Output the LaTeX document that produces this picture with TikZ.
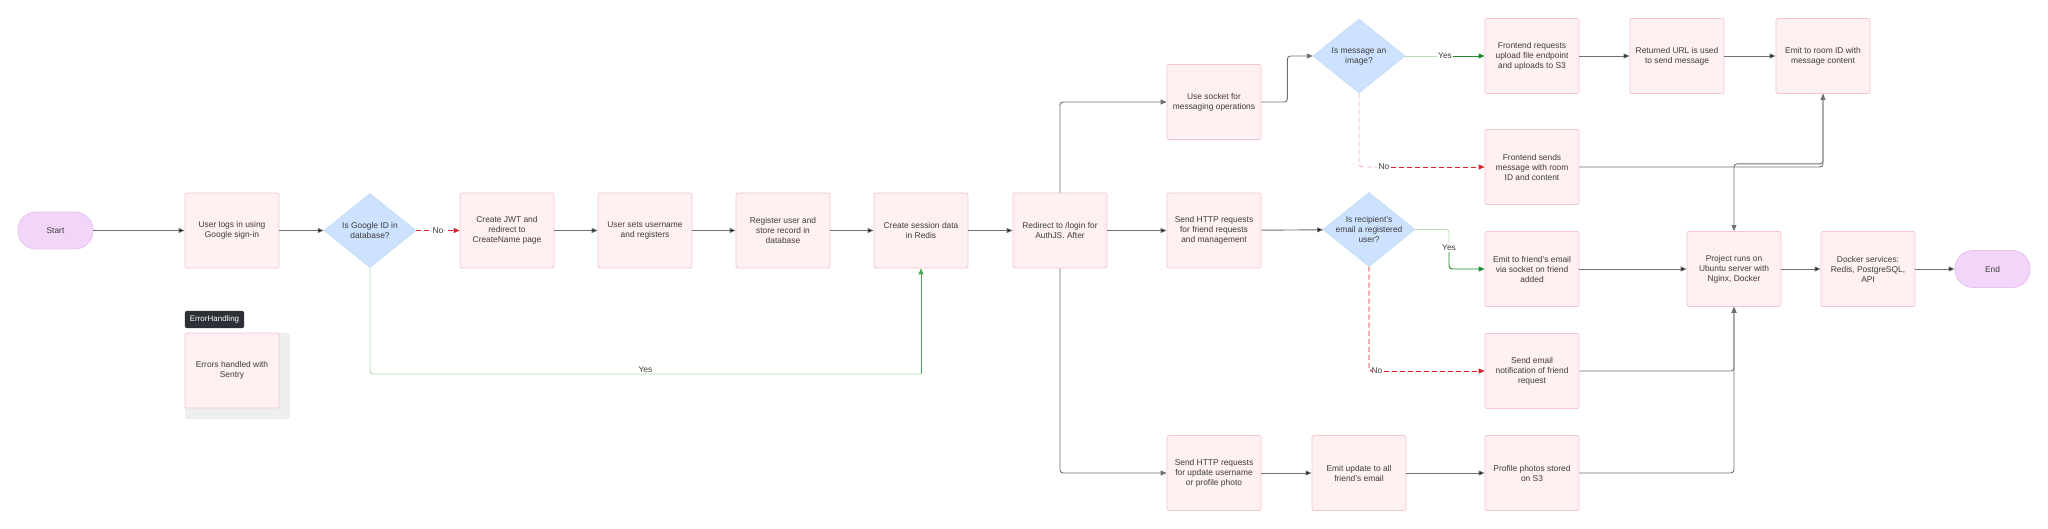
\documentclass[tikz,border=0pt]{standalone}
\usepackage{fontspec}
\setmainfont{Liberation Sans}
\usepackage{xcolor}
\usetikzlibrary{arrows.meta, positioning, shapes}
\definecolor{boxfill}{HTML}{FFF0F1}
\definecolor{boxline}{HTML}{F5C6D0}
\definecolor{decfill}{HTML}{CCE2FF}
\definecolor{decline}{HTML}{BFD8F8}
\definecolor{termfill}{HTML}{F2D6FA}
\definecolor{termline}{HTML}{E6C2F0}
\definecolor{linegray}{HTML}{6F6F6F}
\definecolor{txtgray}{HTML}{3C3C3C}
\definecolor{okgreen}{HTML}{1E8C2E}
\definecolor{okpale}{HTML}{B6DCB6}
\definecolor{nored}{HTML}{D7202A}
\definecolor{nopale}{HTML}{F3AEBB}
\definecolor{tagdark}{HTML}{2D3036}
\definecolor{errshade}{HTML}{EDEEF0}
\tikzset{
	% Define standard arrow tip
	>={Triangle[length=6pt,width=5pt]},
	% text of every shape
	txt/.style={font=\fontsize{8.4}{10}\selectfont, text=txtgray, align=center},
	% Define shape styles
	box/.style={txt, rectangle, draw=boxline, fill=boxfill, line width=0.8pt,
		rounded corners=2pt, minimum width=94pt, minimum height=75pt},
	decide/.style={txt, diamond, draw=decline, fill=decfill, line width=0.5pt,
		shape aspect=1.25, inner sep=-5pt, minimum width=92pt, minimum height=74pt},
	term/.style={txt, rectangle, draw=termline, fill=termfill, line width=0.8pt,
		rounded corners=18pt, minimum width=75pt, minimum height=37pt},
	tag/.style={font=\fontsize{8}{9.6}\selectfont, text=white, fill=tagdark,
		rounded corners=2pt, inner xsep=5pt, minimum height=17pt},
	lbl/.style={txt, inner sep=1pt},
	% Define arrow styles
	pil/.style={->, draw=linegray, line width=0.9pt, rounded corners=3pt},
	yespil/.style={->, draw=okgreen, line width=0.9pt, rounded corners=3pt},
	yespale/.style={draw=okpale, line width=0.9pt, rounded corners=3pt},
	nopil/.style={->, draw=nored, line width=0.9pt, dash pattern=on 5pt off 3pt, rounded corners=3pt},
	nopale/.style={draw=nopale, line width=0.9pt, dash pattern=on 5pt off 3pt, rounded corners=3pt}
}

\begin{document}
\begin{tikzpicture}[x=1pt, y=-1pt]
\useasboundingbox (0,0) rectangle (2048,529);

% login flow
\node[term] at (55.5,230.5) (start) {Start};
\node[box] at (232,230.5) (login) {User logs in using\\Google sign-in};
\node[decide] at (370,230.5) (gid) {Is Google ID in\\database?};
\node[box] at (507,230.5) (jwt) {Create JWT and\\redirect to\\CreateName page};
\node[box] at (645,230.5) (uname) {User sets username\\and registers};
\node[box] at (783,230.5) (reg) {Register user and\\store record in\\database};
\node[box] at (921,230.5) (sess) {Create session data\\in Redis};
\node[box] at (1060,230.5) (redir) {Redirect to /login for\\AuthJS. After};

% error handling
\fill[errshade] (185,333) rectangle (290,419);
\node[tag] at (214.5,319.5) (errtag) {ErrorHandling};
\node[box] at (232,370.5) (err) {Errors handled with\\Sentry};

% messaging
\node[box] at (1214,102) (sock) {Use socket for\\messaging operations};
\node[decide] at (1359,56) (msg) {Is message an\\image?};
\node[box] at (1532,56) (freq) {Frontend requests\\upload file endpoint\\and uploads to S3};
\node[box] at (1677,56) (url) {Returned URL is used\\to send message};
\node[box] at (1823,56) (room) {Emit to room ID with\\message content};
\node[box] at (1532,167) (fsend) {Frontend sends\\message with room\\ID and content};

% friends
\node[box] at (1214,230.5) (fhttp) {Send HTTP requests\\for friend requests\\and management};
\node[decide] at (1369,229.5) (recip) {Is recipient's\\email a registered\\user?};
\node[box] at (1532,269) (efriend) {Emit to friend's email\\via socket on friend\\added};
\node[box] at (1532,371) (semail) {Send email\\notification of friend\\request};

% profile updates
\node[box] at (1214,473) (uhttp) {Send HTTP requests\\for update username\\or profile photo};
\node[box] at (1359,473) (eupd) {Emit update to all\\friend's email};
\node[box] at (1532,473) (photos) {Profile photos stored\\on S3};

% deployment
\node[box] at (1734,269) (proj) {Project runs on\\Ubuntu server with\\Nginx, Docker};
\node[box] at (1868,269) (dock) {Docker services:\\Redis, PostgreSQL,\\API};
\node[term] at (1992.5,269) (fin) {End};

% branch labels
\node[lbl] at (1445,56) (myes) {Yes};
\node[lbl] at (1384,167) (mno) {No};
\node[lbl] at (1449,248) (ryes) {Yes};
\node[lbl] at (1377,371) (rno) {No};

% login connectors
\path[pil] (start) edge (login);
\path[pil] (login) edge (gid);
\draw[nopil] (gid) -- node[lbl, fill=white] (gno) {No} (jwt);
\path[pil] (jwt) edge (uname);
\path[pil] (uname) edge (reg);
\path[pil] (reg) edge (sess);
\path[pil] (sess) edge (redir);
\coordinate (gturn) at (921,374);
\draw[yespale] (gid.south) |- node[lbl, above, pos=0.75] (gyes) {Yes} (gturn);
\draw[yespil, draw=okgreen!70!okpale] (gturn) -- (sess.south);

% branches after redirect
\draw[pil] (redir.north) |- (sock.west);
\path[pil] (redir) edge (fhttp);
\draw[pil] (redir.south) |- (uhttp.west);

% messaging connectors
\draw[pil] (sock.east) -- ++(26,0) |- (msg.west);
\draw[yespale] (msg.east) -- (myes.west);
\draw[yespil] (myes.east) -- (freq.west);
\draw[nopale] (msg.south) |- (mno.west);
\draw[nopil] (mno.east) -- (fsend.west);
\path[pil] (freq) edge (url);
\path[pil] (url) edge (room);
\draw[pil] (fsend.east) -| (room.south);
\draw[pil] (room.south) -- ++(0,70) -| (proj.north);

% friend connectors
\path[pil] (fhttp) edge (recip);
\draw[yespale] (recip.east) -| (ryes.north);
\draw[yespil] (ryes.south) |- (efriend.west);
\draw[nopil, -] (recip.south) |- (rno.west);
\draw[nopil] (rno.east) -- (semail.west);
\path[pil] (efriend) edge (proj);
\draw[pil] (semail.east) -| (proj.south);

% profile connectors
\path[pil] (uhttp) edge (eupd);
\path[pil] (eupd) edge (photos);
\draw[pil] (photos.east) -| (proj.south);

% deployment connectors
\path[pil] (proj) edge (dock);
\path[pil] (dock) edge (fin);

\end{tikzpicture}
\end{document}
